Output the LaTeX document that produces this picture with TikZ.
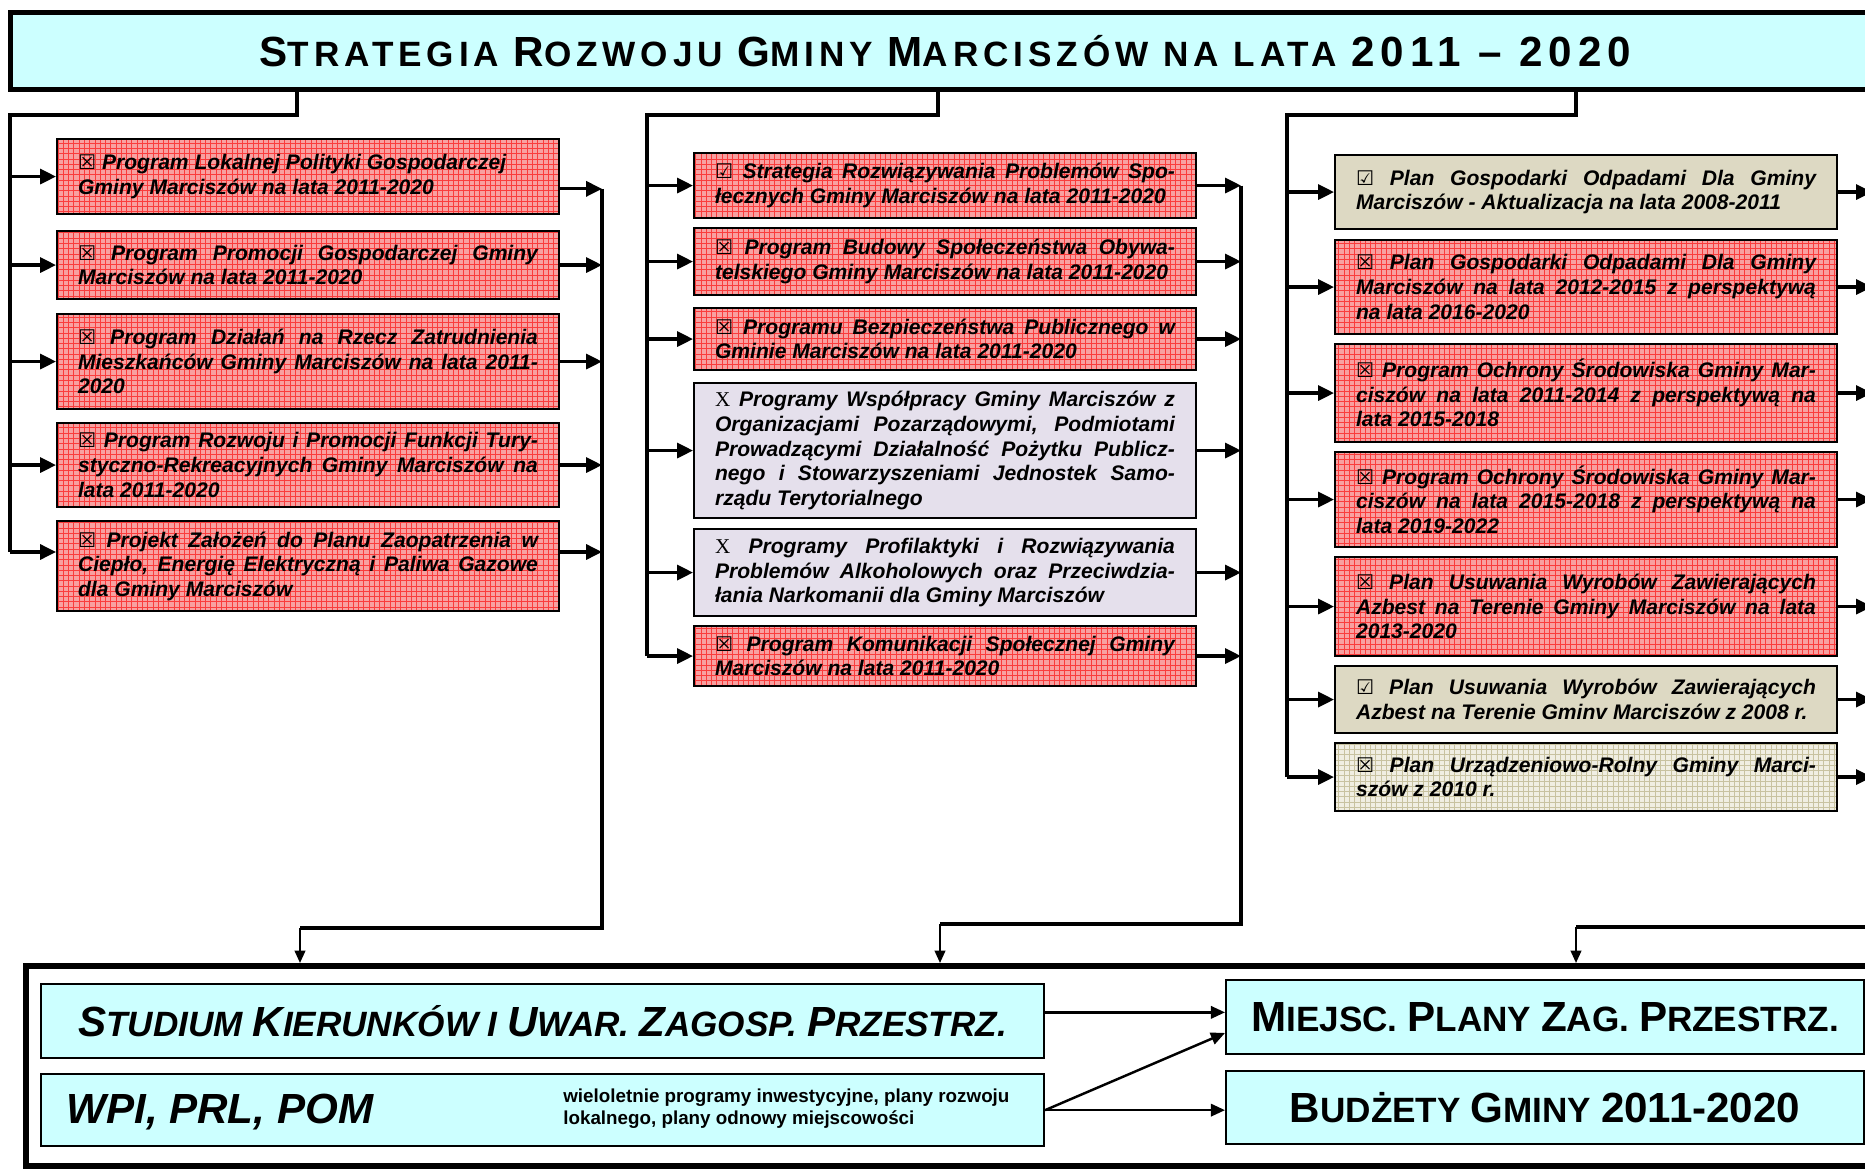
\documentclass[tikz,border=0pt]{standalone}
\usepackage{fontspec}
\setmainfont{Liberation Sans}
\newfontfamily\symfont{DejaVu Sans}
\newfontfamily\serfont{Liberation Serif}
\newfontfamily\titlefont{Liberation Sans}[LetterSpace = 14]
\usetikzlibrary{arrows.meta, patterns}

\definecolor{cyanbg}{RGB}{204,255,255}
\definecolor{redbg}{RGB}{248,160,160}
\definecolor{redgrid}{RGB}{250,60,60}
\definecolor{khaki}{RGB}{221,217,195}
\definecolor{khakibg}{RGB}{240,238,226}
\definecolor{khakigrid}{RGB}{200,194,160}
\definecolor{lavender}{RGB}{229,224,236}

\newcommand{\bigc}[1]{{\fontsize{24}{24}\selectfont #1}}
\newcommand{\tickx}{{\symfont\fontsize{11.5}{11.5}\selectfont ☒}}
\newcommand{\tickv}{{\symfont\fontsize{11.5}{11.5}\selectfont ☑}}
\newcommand{\serx}{{\serfont\mdseries\upshape X}}
\newcommand{\prgfont}{\fontsize{12}{14}\selectfont\bfseries\itshape\tolerance = 10000 \hyphenpenalty = 10000 \exhyphenpenalty = 10000 }

\tikzset{
  naglowek/.style = {draw, line width = 2.8pt, fill = cyanbg, anchor = north west, minimum width = 37.4cm, minimum height = 1.54cm, inner sep = 0pt, font = \titlefont\bfseries\fontsize{20}{24}\selectfont},
  prog/.style = {draw, line width = 1.2pt, anchor = north west, minimum width = 10.04cm, text width = 9.2cm, inner xsep = 0.42cm, inner ysep = 0pt, align = justify, font = \prgfont},
  czerwony/.style = {prog, preaction = {fill = redbg}, pattern = grid, pattern color = redgrid},
  bezowy/.style = {prog, fill = khaki},
  kratka/.style = {prog, preaction = {fill = khakibg}, pattern = grid, pattern color = khakigrid},
  fiolet/.style = {prog, fill = lavender},
  ramka/.style = {draw, line width = 3.4pt, anchor = north west, inner sep = 0pt},
  plan/.style = {draw, line width = 1.3pt, fill = cyanbg, anchor = north west, inner sep = 0pt},
  bus/.style = {line width = 1.8pt},
  arr/.style = {bus, -{Triangle[length = 9pt, width = 8.5pt]}},
  arrd/.style = {line width = 1.2pt, -{Triangle[length = 7pt, width = 6pt]}},
  arrc/.style = {line width = 1.4pt, -{Triangle[length = 8pt, width = 7pt]}}
}

\begin{document}
\begin{tikzpicture}[x = 0.02cm, y = -0.02cm]
\useasboundingbox (0, 0) rectangle (1865, 1171);
\clip (0, 0) rectangle (1865, 1171);
\node[naglowek] (tytul) at (8, 10) {\bigc{S}TRATEGIA \bigc{R}OZWOJU \bigc{G}MINY \bigc{M}ARCISZÓW NA LATA \bigc{2011 – 2020}};
\node[czerwony, minimum height = 1.5cm] (l1) at (56, 138) {\tickx{} Program Lokalnej Polityki Gospodarczej\\ Gminy Marciszów na lata 2011-2020};
\node[czerwony, minimum height = 1.36cm] (l2) at (56, 230) {\tickx{} Program Promocji Gospodarczej Gminy\linebreak Marciszów na lata 2011-2020};
\node[czerwony, minimum height = 1.9cm] (l3) at (56, 313) {\tickx{} Program Działań na Rzecz Zatrudnienia\linebreak Mieszkańców Gminy Marciszów na lata 2011-\linebreak 2020};
\node[czerwony, minimum height = 1.68cm] (l4) at (56, 422) {\tickx{} Program Rozwoju i Promocji Funkcji Tury-\linebreak styczno-Rekreacyjnych Gminy Marciszów na\linebreak lata 2011-2020};
\node[czerwony, minimum height = 1.8cm] (l5) at (56, 520) {\tickx{} Projekt Założeń do Planu Zaopatrzenia w\linebreak Ciepło, Energię Elektryczną i Paliwa Gazowe\linebreak dla Gminy Marciszów};
\node[czerwony, minimum height = 1.3cm] (s1) at (693, 152) {\tickv{} Strategia Rozwiązywania Problemów Spo-\linebreak łecznych Gminy Marciszów na lata 2011-2020};
\node[czerwony, minimum height = 1.34cm] (s2) at (693, 227) {\tickx{} Program Budowy Społeczeństwa Obywa-\linebreak telskiego Gminy Marciszów na lata 2011-2020};
\node[czerwony, minimum height = 1.24cm] (s3) at (693, 307) {\tickx{} Programu Bezpieczeństwa Publicznego w\linebreak Gminie Marciszów na lata 2011-2020};
\node[fiolet, minimum height = 2.7cm] (s4) at (693, 382) {\serx{} Programy Współpracy Gminy Marciszów z\linebreak Organizacjami Pozarządowymi, Podmiotami\linebreak Prowadzącymi Działalność Pożytku Publicz-\linebreak nego i Stowarzyszeniami Jednostek Samo-\linebreak rządu Terytorialnego};
\node[fiolet, minimum height = 1.74cm] (s5) at (693, 528) {\serx{} Programy Profilaktyki i Rozwiązywania\linebreak Problemów Alkoholowych oraz Przeciwdzia-\linebreak łania Narkomanii dla Gminy Marciszów};
\node[czerwony, minimum height = 1.2cm] (s6) at (693, 625) {\tickx{} Program Komunikacji Społecznej Gminy\linebreak Marciszów na lata 2011-2020};
\node[bezowy, minimum height = 1.48cm] (p1) at (1334, 154) {\tickv{} Plan Gospodarki Odpadami Dla Gminy\linebreak Marciszów - Aktualizacja na lata 2008-2011};
\node[czerwony, minimum height = 1.88cm] (p2) at (1334, 239) {\tickx{} Plan Gospodarki Odpadami Dla Gminy\linebreak Marciszów na lata 2012-2015 z perspektywą\linebreak na lata 2016-2020};
\node[czerwony, minimum height = 1.96cm] (p3) at (1334, 343) {\tickx{} Program Ochrony Środowiska Gminy Mar-\linebreak ciszów na lata 2011-2014 z perspektywą na\linebreak lata 2015-2018};
\node[czerwony, minimum height = 1.9cm] (p4) at (1334, 451) {\tickx{} Program Ochrony Środowiska Gminy Mar-\linebreak ciszów na lata 2015-2018 z perspektywą na\linebreak lata 2019-2022};
\node[czerwony, minimum height = 1.98cm] (p5) at (1334, 556) {\tickx{} Plan Usuwania Wyrobów Zawierających\linebreak Azbest na Terenie Gminy Marciszów na lata\linebreak 2013-2020};
\node[bezowy, minimum height = 1.34cm] (p6) at (1334, 665) {\tickv{} Plan Usuwania Wyrobów Zawierających\linebreak Azbest na Terenie Gminv Marciszów z 2008 r.};
\node[kratka, minimum height = 1.36cm] (p7) at (1334, 742) {\tickx{} Plan Urządzeniowo-Rolny Gminy Marci-\linebreak szów z 2010 r.};
\node[ramka, minimum width = 37.14cm, minimum height = 4cm] (ramka) at (23, 963) {};
\node[plan, minimum width = 20.06cm, minimum height = 1.48cm, font = \bfseries\itshape\fontsize{20}{24}\selectfont] (studium) at (40, 983) {\bigc{S}TUDIUM \bigc{K}IERUNKÓW I \bigc{U}WAR. \bigc{Z}AGOSP. \bigc{P}RZESTRZ.};
\node[plan, minimum width = 20.06cm, minimum height = 1.44cm] (wpi) at (40, 1073) {};
\node[anchor = base west, inner sep = 0pt, font = \bfseries\itshape\fontsize{24}{24}\selectfont] (wpinaz) at (66, 1123) {WPI, PRL, POM};
\node[anchor = west, align = left, inner sep = 0pt, font = \bfseries\fontsize{10.7}{12.5}\selectfont] (wpiopis) at (563, 1109) {wieloletnie programy inwestycyjne, plany rozwoju\\ lokalnego, plany odnowy miejscowości};
\node[plan, minimum width = 12.76cm, minimum height = 1.48cm, font = \bfseries\fontsize{20}{24}\selectfont] (miejsc) at (1225, 979) {\bigc{M}IEJSC. \bigc{P}LANY \bigc{Z}AG. \bigc{P}RZESTRZ.};
\node[plan, minimum width = 12.76cm, minimum height = 1.46cm, font = \bfseries\fontsize{20}{24}\selectfont] (budzet) at (1225, 1070) {\bigc{B}UDŻETY \bigc{G}MINY \bigc{2011-2020}};
\coordinate (lg) at (297, 115);
\coordinate (lb) at (10, 115);
\coordinate (lr) at (602, 928);
\coordinate (ld) at (300, 928);
\coordinate (l1o) at ([yshift = -7pt]l1.east);
\coordinate (l5i) at ([yshift = 8pt]l5.west);
\coordinate (l5o) at ([yshift = 8pt]l5.east);
\draw[bus] (tytul.south -| lg) -- (lg) -- (lb) -- (lb |- l5i);
\draw[arr] (lb |- l1.west) -- (l1.west);
\draw[arr] (lb |- l2.west) -- (l2.west);
\draw[arr] (lb |- l3.west) -- (l3.west);
\draw[arr] (lb |- l4.west) -- (l4.west);
\draw[arr] (lb |- l5i) -- (l5i);
\draw[arr] (l1o) -- (l1o -| lr);
\draw[arr] (l2.east) -- (l2.east -| lr);
\draw[arr] (l3.east) -- (l3.east -| lr);
\draw[arr] (l4.east) -- (l4.east -| lr);
\draw[arr] (l5o) -- (l5o -| lr);
\draw[bus] (l1o -| lr) -- (lr) -- (ld);
\draw[arrd] (ld) -- (ld |- ramka.north);
\coordinate (sg) at (938, 115);
\coordinate (sb) at (647, 115);
\coordinate (sr) at (1241, 924);
\coordinate (sd) at (940, 924);
\draw[bus] (tytul.south -| sg) -- (sg) -- (sb) -- (sb |- s6.west);
\draw[arr] (sb |- s1.west) -- (s1.west);
\draw[arr] (sb |- s2.west) -- (s2.west);
\draw[arr] (sb |- s3.west) -- (s3.west);
\draw[arr] (sb |- s4.west) -- (s4.west);
\draw[arr] (sb |- s5.west) -- (s5.west);
\draw[arr] (sb |- s6.west) -- (s6.west);
\draw[arr] (s1.east) -- (s1.east -| sr);
\draw[arr] (s2.east) -- (s2.east -| sr);
\draw[arr] (s3.east) -- (s3.east -| sr);
\draw[arr] (s4.east) -- (s4.east -| sr);
\draw[arr] (s5.east) -- (s5.east -| sr);
\draw[arr] (s6.east) -- (s6.east -| sr);
\draw[bus] (s1.east -| sr) -- (sr) -- (sd);
\draw[arrd] (sd) -- (sd |- ramka.north);
\coordinate (pg) at (1576, 115);
\coordinate (pb) at (1287, 115);
\coordinate (pr) at (1872, 927);
\coordinate (pd) at (1576, 927);
\draw[bus] (tytul.south -| pg) -- (pg) -- (pb) -- (pb |- p7.west);
\draw[arr] (pb |- p1.west) -- (p1.west);
\draw[arr] (pb |- p2.west) -- (p2.west);
\draw[arr] (pb |- p3.west) -- (p3.west);
\draw[arr] (pb |- p4.west) -- (p4.west);
\draw[arr] (pb |- p5.west) -- (p5.west);
\draw[arr] (pb |- p6.west) -- (p6.west);
\draw[arr] (pb |- p7.west) -- (p7.west);
\draw[arr] (p1.east) -- (p1.east -| pr);
\draw[arr] (p2.east) -- (p2.east -| pr);
\draw[arr] (p3.east) -- (p3.east -| pr);
\draw[arr] (p4.east) -- (p4.east -| pr);
\draw[arr] (p5.east) -- (p5.east -| pr);
\draw[arr] (p6.east) -- (p6.east -| pr);
\draw[arr] (p7.east) -- (p7.east -| pr);
\draw[bus] (p1.east -| pr) -- (pr) -- (pd);
\draw[arrd] (pd) -- (pd |- ramka.north);
\coordinate (st) at ([yshift = 5pt]studium.east);
\draw[arrc] (st) -- (st -| miejsc.west);
\draw[arrc] (wpi.east) -- (wpi.east -| budzet.west);
\draw[arrc] (wpi.east) -- ([yshift = -9pt]miejsc.west);
\end{tikzpicture}
\end{document}
